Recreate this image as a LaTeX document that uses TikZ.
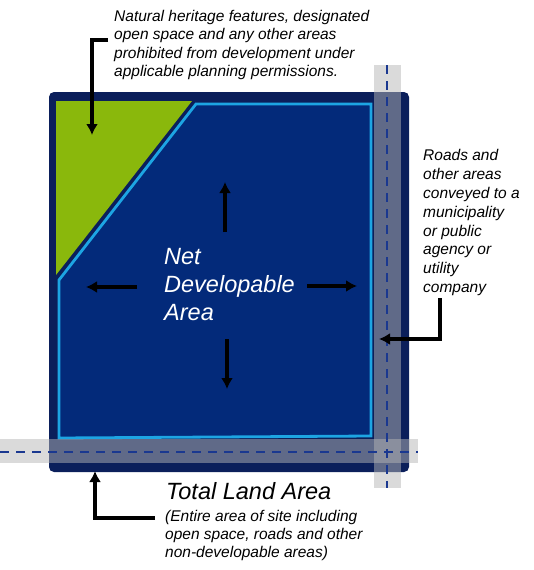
\documentclass[tikz,border=0pt]{standalone}
\usepackage{fontspec}
\setmainfont{Liberation Sans}
\usetikzlibrary{arrows.meta}

\definecolor{framenavy}{HTML}{0B1F5B}
\definecolor{areanavy}{HTML}{032A7A}
\definecolor{edgecyan}{HTML}{1DA5E3}
\definecolor{heritagegreen}{HTML}{8AB80C}
\definecolor{stripgrey}{HTML}{B5B5B5}
\definecolor{dashblue}{HTML}{1A3890}

\tikzset{
  arr/.style={line width=3.2pt, -{Latex[length=11pt,width=12pt]}},
  strip/.style={fill=stripgrey, fill opacity=.5},
  road/.style={dashblue, line width=2.6pt, dash pattern=on 9pt off 7pt},
  note/.style={anchor=north west, align=left, inner sep=0pt,
    font=\fontsize{15.5}{18.5}\selectfont\itshape},
  big/.style={anchor=north west, align=left, inner sep=0pt,
    font=\fontsize{23.5}{28}\selectfont\itshape},
}

\begin{document}
\begin{tikzpicture}[x=1pt,y=-1pt]
  \useasboundingbox (0,0) rectangle (534,570);
  % total land area
  \fill[framenavy, rounded corners=5pt] (49,92) rectangle (409,472);
  % heritage lands
  \fill[heritagegreen] (56,101) -- (192,101) -- (56,275) -- cycle;
  % net developable area
  \draw[edgecyan, line width=2.8pt, fill=areanavy]
    (196,104) -- (371,104) -- (371,436) -- (59,438) -- (59,280) -- cycle;
  % roads
  \fill[strip] (374,65) rectangle (401,488);
  \fill[strip] (0,439) rectangle (418,463);
  \draw[road] (387,65) -- (387,488);
  \draw[road] (0,452) -- (418,452);

  % texts
  \node (heritage) [note] at (114,10) {Natural heritage features, designated\\open space and any other areas\\prohibited from development under\\applicable planning permissions.};
  \node (roads) [note, font=\fontsize{15.5}{18.9}\selectfont\itshape] at (423,149) {Roads and\\other areas\\conveyed to a\\municipality\\or public\\agency or\\utility\\company};
  \node (net) [big, text=white] at (164,248) {Net\\Developable\\Area};
  \node (total) [big] at (166,482) {Total Land Area};
  \node (entire) [note, font=\fontsize{15.5}{18}\selectfont\itshape] at (165,510) {(Entire area of site including\\open space, roads and other\\non-developable areas)};

  % growth arrows
  \coordinate (upS) at (225,232);   \coordinate (upE) at (225,182);
  \coordinate (leftS) at (137,287); \coordinate (leftE) at (86,287);
  \coordinate (rightS) at (307,286); \coordinate (rightE) at (357,286);
  \coordinate (downS) at (227,339); \coordinate (downE) at (227,389);
  \draw[arr] (upS) -- (upE);
  \draw[arr] (leftS) -- (leftE);
  \draw[arr] (rightS) -- (rightE);
  \draw[arr] (downS) -- (downE);

  % pointers
  \coordinate (hstub) at (108,40);  \coordinate (htip) at (92,135);
  \coordinate (rstub) at (440,298); \coordinate (rtip) at (379,339);
  \coordinate (bstub) at (155,518); \coordinate (btip) at (95,471);
  \draw[arr] (hstub) -| (htip);
  \draw[arr] (rstub) |- (rtip);
  \draw[arr] (bstub) -| (btip);
\end{tikzpicture}
\end{document}
